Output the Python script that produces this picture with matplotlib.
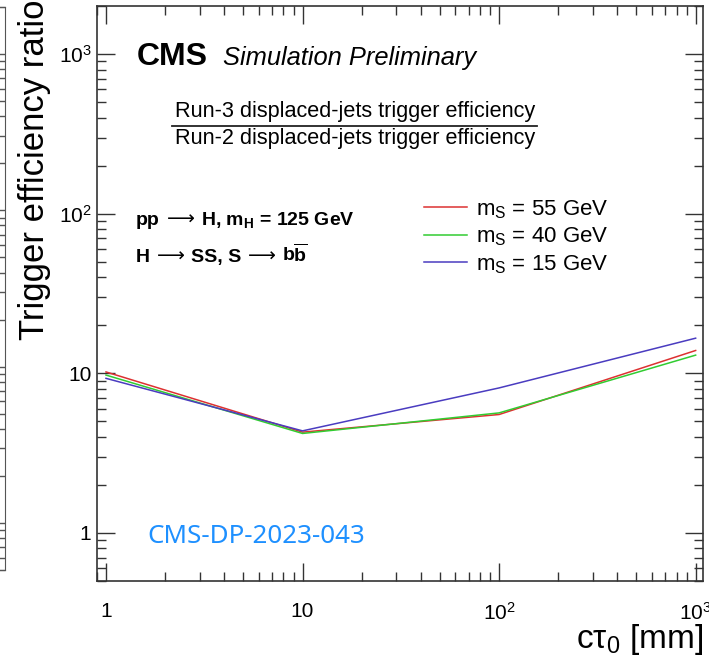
import numpy as np
import matplotlib
matplotlib.use("Agg")
import matplotlib.pyplot as plt
from matplotlib.ticker import FixedLocator, FixedFormatter, LogLocator, NullFormatter

plt.rcParams['font.family'] = ['Liberation Sans', 'DejaVu Sans']
plt.rcParams['mathtext.fontset'] = 'custom'
plt.rcParams['mathtext.rm'] = 'Liberation Sans'
plt.rcParams['mathtext.it'] = 'Liberation Sans:italic'
plt.rcParams['mathtext.bf'] = 'Liberation Sans:bold'

# data
ctau = [1, 10, 100, 1000]
ratio_55 = [10.2, 4.28, 5.52, 13.9]
ratio_40 = [9.75, 4.2, 5.65, 13.0]
ratio_15 = [9.3, 4.36, 8.1, 16.6]
labels = [r'm$_{\rm S}$ = 55 GeV', r'm$_{\rm S}$ = 40 GeV', r'm$_{\rm S}$ = 15 GeV']
colors = ['#dd3131', '#31cc31', '#4a3cc0']

xticks = [1, 10, 100, 1000]
xtick_labels = ['1', '10', r'$10^{2}$', r'$10^{3}$']
yticks = [1, 10, 100, 1000]
ytick_labels = ['1', '10', r'$10^{2}$', r'$10^{3}$']

W, H = 709, 662
fig = plt.figure(figsize=(W / 100, H / 100), dpi=100)
renderer = fig.canvas.get_renderer()

def fx(px):
    return px / W

def fy(py):
    return 1 - py / H

def rich_text(x, y, parts):
    """draw text pieces one after another, x and y in pixels from top-left.
    a number in parts is a gap in pixels"""
    for p in parts:
        if isinstance(p, (int, float)):
            x += p
            continue
        s, kw = p
        t = fig.text(fx(x), fy(y), s, va='baseline', **kw)
        x += t.get_window_extent(renderer).width

# main panel
ax = fig.add_axes([fx(97), fy(581), (703 - 97) / W, (581 - 6) / H])
for vals, lab, c in zip([ratio_55, ratio_40, ratio_15], labels, colors):
    ax.plot(ctau, vals, color=c, lw=1.1, label=lab)

ax.set_xscale('log')
ax.set_yscale('log')
ax.set_xlim(0.9, 1090)
ax.set_ylim(0.5, 2000)

ax.xaxis.set_major_locator(FixedLocator(xticks))
ax.xaxis.set_major_formatter(FixedFormatter(xtick_labels))
ax.yaxis.set_major_locator(FixedLocator(yticks))
ax.yaxis.set_major_formatter(FixedFormatter(ytick_labels))
for a in (ax.xaxis, ax.yaxis):
    a.set_minor_locator(LogLocator(base=10, subs=np.arange(2, 10), numticks=20))
    a.set_minor_formatter(NullFormatter())

ax.tick_params(which='both', direction='in', top=True, right=True, width=1, colors='#333333')
ax.tick_params(which='major', length=13)
ax.tick_params(which='minor', length=6.5)
ax.tick_params(axis='x', which='major', pad=15, labelsize=15, labelcolor='black')
ax.tick_params(axis='y', which='major', pad=4, labelsize=15, labelcolor='black')
for s in ax.spines.values():
    s.set_linewidth(1.2)
    s.set_color('#333333')

leg = ax.legend(loc='upper left', bbox_to_anchor=(fx(424), fy(198)), bbox_transform=fig.transFigure,
                frameon=False, fontsize=16, handlelength=1.95, handletextpad=0.4,
                labelspacing=0.22, borderaxespad=0, borderpad=0)

# axis titles
fig.text(fx(35), fy(340), 'Trigger efficiency ratio', rotation=90, ha='center', va='bottom', fontsize=25)
fig.text(fx(703), fy(648), r'c$\mathrm{\tau}_{0}$ [mm]', ha='right', va='baseline', fontsize=24)

# CMS labels
fig.text(fx(137), fy(65), 'CMS', fontsize=23, fontweight='bold', va='baseline')
fig.text(fx(223), fy(65), 'Simulation Preliminary', fontsize=18.4, style='italic', va='baseline')

fig.text(fx(355), fy(117), 'Run-3 displaced-jets trigger efficiency', fontsize=15.6, ha='center', va='baseline')
fig.text(fx(355), fy(144), 'Run-2 displaced-jets trigger efficiency', fontsize=15.6, ha='center', va='baseline')
fig.add_artist(plt.Line2D([fx(172), fx(537)], [fy(126), fy(126)], color='#222222', lw=1.3))

bold = dict(fontsize=14, fontweight='bold', family='Liberation Sans')
arr = dict(fontsize=14, family='DejaVu Sans')
rich_text(136, 225, [('pp', bold), 7, ('⟶', arr), 6, (r'H, m$_{\mathbf{H}}$ = 125 GeV', bold)])
rich_text(136, 262, [('H', bold), 7, ('⟶', arr), 6, ('SS, S', bold), 7, ('⟶', arr), 6,
                     (r'b$\mathbf{\overline{b}}$', bold)])

fig.text(fx(147), fy(543), 'CMS-DP-2023-043', fontsize=18.7, color='#1e90ff', family='Noto Sans', va='baseline')

# edge of neighbouring panel on the left
ax0 = fig.add_axes([fx(-200), fy(570), 205 / W, (570 - 7) / H])
ax0.set_yscale('log')
ax0.set_ylim(0.5, 2000)
ax0.set_xticks([])
ax0.yaxis.tick_right()
ax0.yaxis.set_major_locator(FixedLocator(yticks))
ax0.yaxis.set_minor_locator(LogLocator(base=10, subs=np.arange(2, 10), numticks=20))
ax0.yaxis.set_major_formatter(NullFormatter())
ax0.yaxis.set_minor_formatter(NullFormatter())
ax0.tick_params(which='both', direction='in', width=1, colors='#555555')
ax0.tick_params(which='major', length=12)
ax0.tick_params(which='minor', length=6)
for s in ax0.spines.values():
    s.set_color('#555555')

fig.savefig('out.png', dpi=100)
